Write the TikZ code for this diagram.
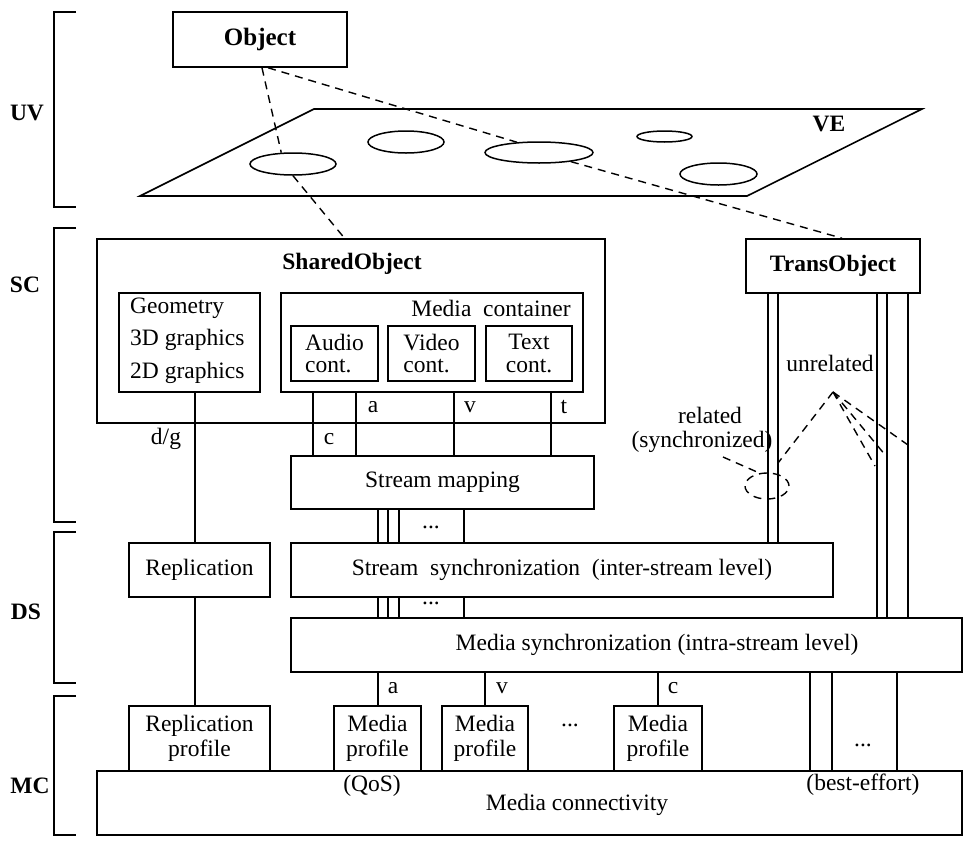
\documentclass[tikz,border=0pt]{standalone}
\usepackage{fontspec}
\setmainfont{Liberation Serif}
\usetikzlibrary{shapes.geometric}
\begin{document}
\begin{tikzpicture}[x=1pt,y=-1pt,
  txt/.style={font=\fontsize{23.5}{25}\selectfont},
  every node/.style={txt, inner sep=0pt},
  bold/.style={font=\fontsize{23.5}{25}\selectfont\bfseries},
  box/.style={draw, line width=1.6pt, rectangle, inner sep=0pt},
  wire/.style={line width=1.5pt},
  dashline/.style={line width=1.4pt, dash pattern=on 8pt off 6pt},
  blob/.style={draw, ellipse, line width=1.5pt, inner sep=0pt},
  bracket/.style={line width=1.6pt}
]
\useasboundingbox (0,0) rectangle (964,844);

% ---------- layer brackets ----------
\draw[bracket] (76,12) -- (54,12) -- (54,207) -- (76,207);
\draw[bracket] (76,228) -- (54,228) -- (54,522) -- (76,522);
\draw[bracket] (76,532) -- (54,532) -- (54,683) -- (76,683);
\draw[bracket] (76,696) -- (54,696) -- (54,835) -- (76,835);
\node[bold] (uv) at (27,113) {UV};
\node[bold] (sc) at (25,285) {SC};
\node[bold] (ds) at (26,612) {DS};
\node[bold] (mc) at (30,786) {MC};

% ---------- user view: object and virtual environment ----------
\node[box, minimum width=174pt, minimum height=55pt,
      font=\fontsize{25}{27}\selectfont\bfseries] (obj) at (260,39.5) {Object};
\draw[line width=1.6pt] (140,196) -- (314,109) -- (922,109) -- (747,196) -- cycle;
\node[bold] (ve) at (829,124) {VE};
\node[blob, minimum width=86pt, minimum height=22pt] (e1) at (293,164) {};
\node[blob, minimum width=76pt, minimum height=22pt] (e2) at (406,142) {};
\node[blob, minimum width=108pt, minimum height=21pt] (e3) at (539,152.5) {};
\node[blob, minimum width=55pt, minimum height=11pt] (e4) at (664.5,136.5) {};
\node[blob, minimum width=77pt, minimum height=22pt] (e5) at (718.5,174) {};

% ---------- shared object ----------
\node[box, minimum width=508pt, minimum height=184pt] (shared) at (351,331) {};
\node[bold] (sharedT) at (352,264) {SharedObject};
\node[box, minimum width=141pt, minimum height=99pt] (geom) at (189.5,342.5) {};
\node[anchor=west] (g1) at (130,308) {Geometry};
\node[anchor=west] (g2) at (130,340) {3D graphics};
\node[anchor=west] (g3) at (130,373) {2D graphics};
\node[box, minimum width=302pt, minimum height=99pt] (mcont) at (432,342.5) {};
\node (mcontT) at (491,308) {Media~~container};
\node[box, minimum width=87pt, minimum height=55pt, align=left,
      font=\fontsize{23.5}{22.5}\selectfont] (audio) at (334.5,353.5) {Audio\\cont.};
\node[box, minimum width=87pt, minimum height=55pt, align=left,
      font=\fontsize{23.5}{22.5}\selectfont] (video) at (431.5,353.5) {Video\\cont.};
\node[box, minimum width=86pt, minimum height=55pt, align=center,
      font=\fontsize{23.5}{22.5}\selectfont] (textc) at (529,353.5) {Text\\cont.};

% ---------- transient object ----------
\node[box, bold, minimum width=174pt, minimum height=54pt] (trans) at (833,266) {TransObject};

% ---------- synchronization layers ----------
\node[box, minimum width=303pt, minimum height=53pt] (smap) at (442.5,482.5) {Stream mapping};
\node[box, minimum width=141pt, minimum height=54pt] (repl) at (199.5,570) {Replication};
\node[box, minimum width=542pt, minimum height=54pt] (ssync) at (562,570)
     {Stream~~synchronization~~(inter-stream level)};
\node[box, minimum width=671pt, minimum height=54pt] (msync) at (626.5,645) {};
\node (msyncT) at (657,645) {Media synchronization (intra-stream level)};

% ---------- media connectivity ----------
\node[box, minimum width=141pt, minimum height=65pt, align=center] (rprof) at (199.5,738.5) {Replication\\profile};
\node[box, minimum width=87pt, minimum height=65pt, align=center] (mp1) at (377.5,738.5) {Media\\profile};
\node[box, minimum width=86pt, minimum height=65pt, align=center] (mp2) at (485,738.5) {Media\\profile};
\node[box, minimum width=88pt, minimum height=65pt, align=center] (mp3) at (658,738.5) {Media\\profile};
\node[box, minimum width=865pt, minimum height=64pt] (mconn) at (529.5,803) {};
\node (qos) at (372,786) {(QoS)};
\node (mconnT) at (577,805) {Media connectivity};
\node (best) at (863,785) {(best-effort)};

% ---------- dashed mappings between layers ----------
\draw[dashline] (obj.-86) -- (e1.136);
\draw[dashline] (e1.south) -- (shared.94);
\draw[dashline] (obj.-74) -- (e3.155);
\draw[dashline] (e3.-16) -- (trans.72);

% ---------- stream connectors ----------
\draw[wire] (195,0 |- geom.south) -- (195,0 |- repl.north);
\draw[wire] (195,0 |- repl.south) -- (195,0 |- rprof.north);
\foreach \x in {313,356,454,551}
  \draw[wire] (\x,0 |- mcont.south) -- (\x,0 |- smap.north);
\foreach \x in {378,388,399,464} {
  \draw[wire] (\x,0 |- smap.south) -- (\x,0 |- ssync.north);
  \draw[wire] (\x,0 |- ssync.south) -- (\x,0 |- msync.north);
}
\foreach \x in {768,778}
  \draw[wire] (\x,0 |- trans.south) -- (\x,0 |- ssync.north);
\foreach \x in {877,887,908}
  \draw[wire] (\x,0 |- trans.south) -- (\x,0 |- msync.north);
\draw[wire] (378,0 |- msync.south) -- (378,0 |- mp1.north);
\draw[wire] (485,0 |- msync.south) -- (485,0 |- mp2.north);
\draw[wire] (658,0 |- msync.south) -- (658,0 |- mp3.north);
\foreach \x in {810,832,897}
  \draw[wire] (\x,0 |- msync.south) -- (\x,0 |- mconn.north);

% ---------- stream labels ----------
\node (ldg) at (166,439) {d/g};
\node (lc1) at (329,439) {c};
\node (la1) at (373,407) {a};
\node (lv1) at (470,407) {v};
\node (lt1) at (564,407) {t};
\node (dots1) at (431,527) {...};
\node (dots2) at (431,603) {...};
\node (la2) at (393,688) {a};
\node (lv2) at (502,688) {v};
\node (lc2) at (673,688) {c};
\node (dots3) at (570,725) {...};
\node (dots4) at (863,745) {...};

% ---------- related / unrelated streams ----------
\node (unrel) at (830,363) {unrelated};
\coordinate (apex) at (833,392);
\coordinate (u1) at (778,463);
\coordinate (u2) at (875,466);
\coordinate (u3) at (886,456);
\coordinate (u4) at (908,445);
\foreach \p in {u1,u2,u3,u4}
  \draw[dashline] (apex) -- (\p);
\node (relA) at (710,415) {related};
\node (relB) at (702,442) {(synchronized)};
\node[draw, ellipse, dashline, inner sep=0pt, minimum width=44pt, minimum height=26pt] (grp) at (767,486) {};
\coordinate (rs) at (723,457);
\draw[dashline] (rs) -- (grp.120);
\end{tikzpicture}
\end{document}
